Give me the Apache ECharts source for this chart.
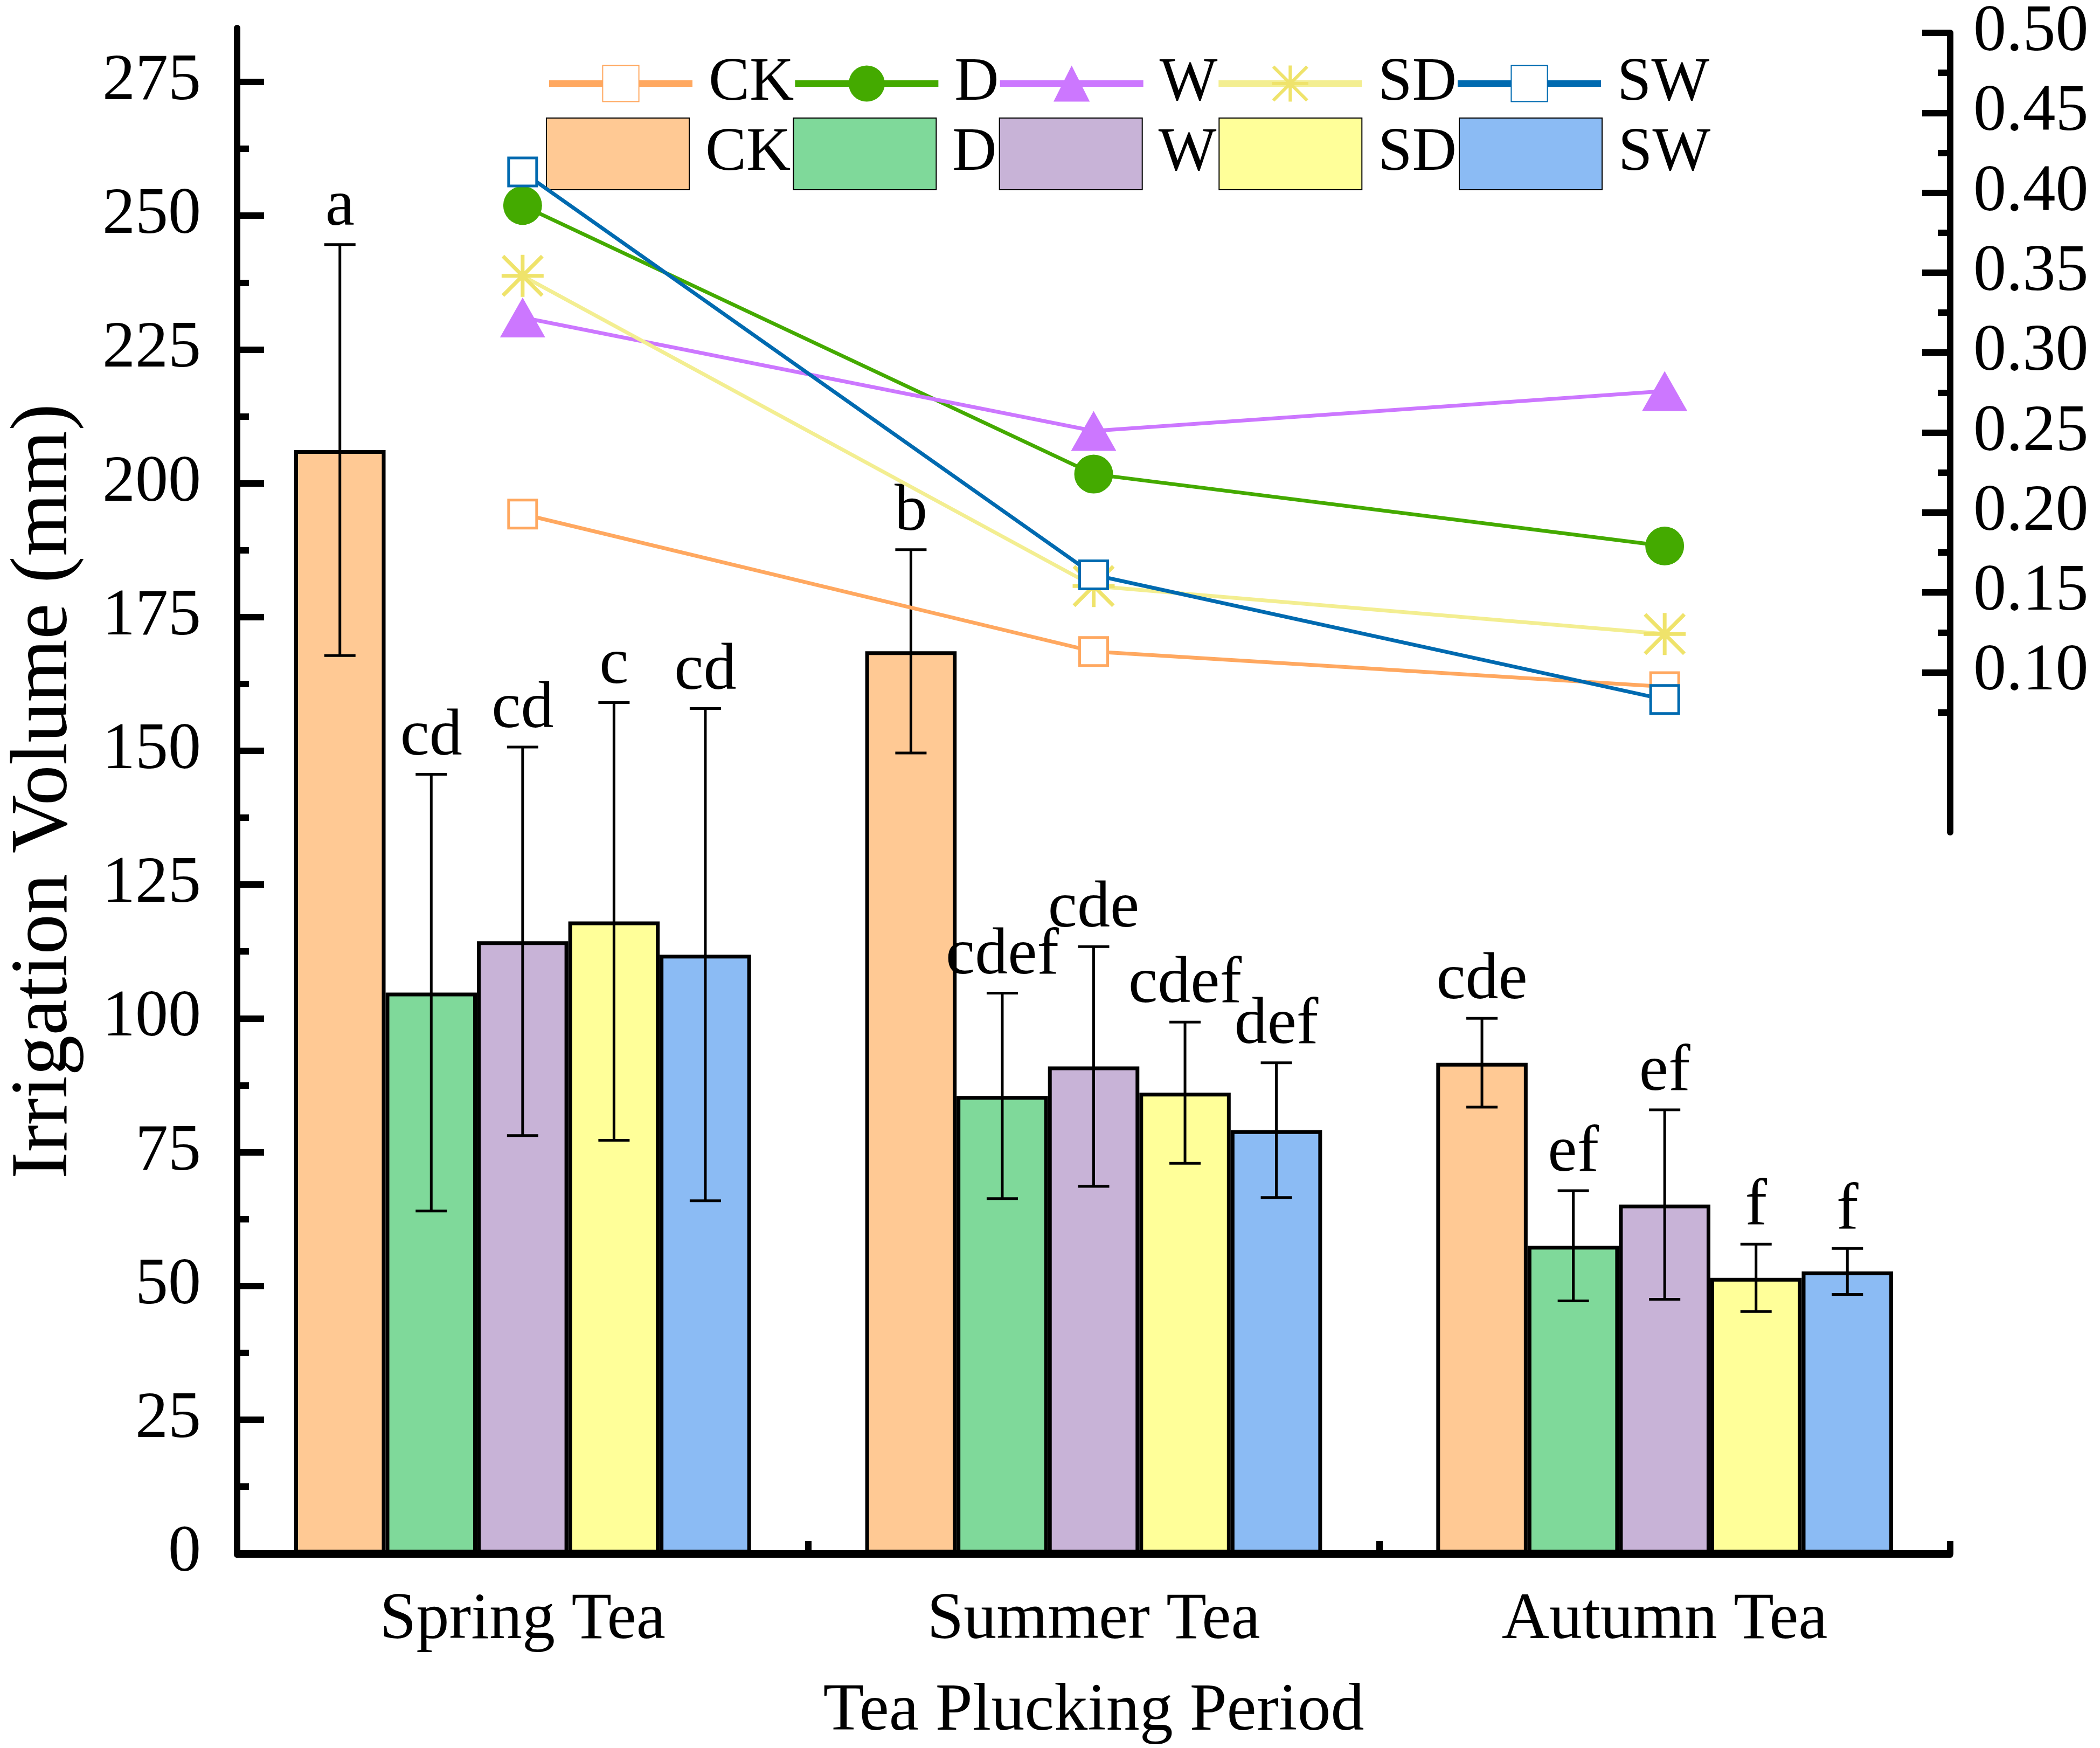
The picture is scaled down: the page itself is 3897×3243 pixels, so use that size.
<!DOCTYPE html>
<html>
<head>
<meta charset="utf-8">
<script src="https://cdn.jsdelivr.net/npm/echarts@6/dist/echarts.min.js"></script>
<style>html,body{margin:0;padding:0;background:#fff}#c{width:3897px;height:3243px}</style>
</head>
<body>
<div id="c"></div>
<script>
// ---------- data ----------
const categories = ['Spring Tea', 'Summer Tea', 'Autumn Tea'];
const treatments = ['CK', 'D', 'W', 'SD', 'SW'];

// bars: irrigation volume (mm), mean and error (half-range)
const barCK = [206.2, 168.6, 91.7];
const barD  = [104.8, 85.5, 57.5];
const barW  = [114.4, 91.0, 65.2];
const barSD = [118.1, 86.1, 51.5];
const barSW = [111.9, 79.1, 52.7];

const errCK = [38.4, 19.0, 8.3];
const errD  = [40.8, 19.2, 10.3];
const errW  = [36.3, 22.4, 17.7];
const errSD = [40.9, 13.2, 6.3];
const errSW = [46.0, 12.6, 4.3];

const letCK = ['a', 'b', 'cde'];
const letD  = ['cd', 'cdef', 'ef'];
const letW  = ['cd', 'cde', 'ef'];
const letSD = ['c', 'cdef', 'f'];
const letSW = ['cd', 'def', 'f'];

// lines: right axis values
const lineCK = [0.199, 0.113, 0.091];
const lineD  = [0.392, 0.224, 0.179];
const lineW  = [0.322, 0.251, 0.276];
const lineSD = [0.348, 0.154, 0.124];
const lineSW = [0.413, 0.161, 0.083];

// right axis tick values
const rightMajor = [0.10, 0.15, 0.20, 0.25, 0.30, 0.35, 0.40, 0.45, 0.50];
const rightMinor = [0.075, 0.125, 0.175, 0.225, 0.275, 0.325, 0.375, 0.425, 0.475];

// ---------- styles ----------
const FONT = 'Liberation Serif';
const barColors  = {CK: '#FFC994', D: '#7FD99A', W: '#C8B3D7', SD: '#FFFF99', SW: '#8BBBF4'};
const lineColors = {CK: '#FFA860', D: '#44AA00', W: '#CC77FF', SD: '#F3EE91', SW: '#006AB0'};
const starPath = 'path://M0 45.5L100 45.5L100 54.5L0 54.5Z M45.5 0L54.5 0L54.5 100L45.5 100Z M0 6.4L6.4 0L100 93.6L93.6 100Z M93.6 0L100 6.4L6.4 100L0 93.6Z';

const barsData = [barCK, barD, barW, barSD, barSW];
const errsData = [errCK, errD, errW, errSD, errSW];
const letsData = [letCK, letD, letW, letSD, letSW];
const linesData = [lineCK, lineD, lineW, lineSD, lineSW];

const L = 440, R = 3897 - 3619, T = 52, B = 3243 - 2884;

const series = [];
treatments.forEach((t, k) => {
  series.push({
    name: t, type: 'bar', xAxisIndex: 0, yAxisIndex: 0,
    barGap: '0%', barCategoryGap: '20%',
    itemStyle: {color: barColors[t], borderColor: '#000', borderWidth: 7},
    data: barsData[k], z: 2
  });
});
treatments.forEach((t, k) => {
  const errs = errsData[k], lets = letsData[k];
  series.push({
    name: 'err' + t, type: 'custom', xAxisIndex: 0, yAxisIndex: 0, z: 3,
    clip: false,
    data: barsData[k].map((v, i) => [i, v]),
    encode: {x: 0, y: 1},
    renderItem: function (params, api) {
      const i = api.value(0), m = api.value(1);
      const e = errs[params.dataIndex];
      const base = api.coord([i, m]);
      const catW = api.size([1, 0])[0];
      const bw = catW * 0.8 / 5;
      const x = base[0] + (k - 2) * bw;
      const yT = api.coord([i, m + e])[1];
      const yB = api.coord([i, m - e])[1];
      const cap = 29;
      const ls = {stroke: '#000', lineWidth: 5};
      return {type: 'group', children: [
        {type: 'line', shape: {x1: x, y1: yT, x2: x, y2: yB}, style: ls},
        {type: 'line', shape: {x1: x - cap, y1: yT, x2: x + cap, y2: yT}, style: ls},
        {type: 'line', shape: {x1: x - cap, y1: yB, x2: x + cap, y2: yB}, style: ls},
        {type: 'text', x: x, y: yT - 8, style: {
          text: lets[params.dataIndex], fill: '#000', fontSize: 122, fontFamily: FONT,
          align: 'center', verticalAlign: 'bottom'}}
      ]};
    }
  });
});
const lineSym = {
  CK: {symbol: 'rect', symbolSize: 52, itemStyle: {color: '#fff', borderColor: lineColors.CK, borderWidth: 5}},
  D:  {symbol: 'circle', symbolSize: 72, itemStyle: {color: lineColors.D}},
  W:  {symbol: 'triangle', symbolSize: [84, 74], itemStyle: {color: lineColors.W}},
  SD: {symbol: starPath, symbolSize: 78, itemStyle: {color: '#EFE36B'}},
  SW: {symbol: 'rect', symbolSize: 52, itemStyle: {color: '#fff', borderColor: lineColors.SW, borderWidth: 5}}
};
treatments.forEach((t, k) => {
  series.push(Object.assign({
    name: t + '-L', type: 'line', xAxisIndex: 2, yAxisIndex: 1, z: 6,
    showAllSymbol: true,
    lineStyle: {color: lineColors[t], width: 7},
    data: linesData[k]
  }, lineSym[t]));
});

const tickLS = {color: '#000', width: 12};
const option = {
  animation: false,
  backgroundColor: '#fff',
  textStyle: {fontFamily: FONT, color: '#000'},
  grid: [
    {left: L, right: R, top: 152, bottom: B},
    {left: L, right: R, top: T, bottom: 3243 - 1544},
    {left: L, right: R, top: T, bottom: B}
  ],
  legend: [
    {
      data: treatments.map(t => t + '-L'),
      formatter: n => n.replace('-L', ''),
      left: 1013, top: 98, padding: 0, itemGap: -4,
      itemWidth: 266, itemHeight: 84,
      lineStyle: {width: 12},
      textStyle: {fontSize: 114, fontFamily: FONT, color: '#000', padding: [0, 0, 0, 25]}
    },
    {
      data: treatments,
      icon: 'rect',
      left: 1013, top: 218, padding: 0, itemGap: 4,
      itemWidth: 265, itemHeight: 133,
      textStyle: {fontSize: 114, fontFamily: FONT, color: '#000', padding: [0, 0, 0, 25]}
    }
  ],
  xAxis: [
    {
      type: 'category', gridIndex: 0, position: 'bottom', data: categories,
      axisLine: {lineStyle: {color: '#000', width: 12}},
      axisTick: {show: true, inside: true, alignWithLabel: true, length: 50, lineStyle: tickLS},
      axisLabel: {fontSize: 122, fontFamily: FONT, color: '#000', margin: 64},
      name: 'Tea Plucking Period', nameLocation: 'middle', nameGap: 232,
      nameTextStyle: {fontSize: 124, fontFamily: FONT, color: '#000'},
      splitLine: {show: false}
    },
    {
      type: 'category', gridIndex: 0, position: 'bottom', data: categories,
      axisLine: {show: false},
      axisTick: {show: true, inside: true, alignWithLabel: false, length: 23, lineStyle: tickLS},
      axisLabel: {show: false}, splitLine: {show: false}
    },
    {
      type: 'category', gridIndex: 1, data: categories, show: false
    },
    {
      type: 'category', gridIndex: 2, position: 'top', data: categories,
      axisLine: {lineStyle: {color: '#000', width: 11}},
      axisTick: {show: false}, axisLabel: {show: false}, splitLine: {show: false}
    }
  ],
  yAxis: [
    {
      type: 'value', gridIndex: 0, position: 'left', min: 0, max: 275, interval: 25,
      axisLine: {show: true, lineStyle: {color: '#000', width: 12}},
      axisTick: {show: true, inside: true, length: 50, lineStyle: tickLS},
      minorTick: {show: true, splitNumber: 2, length: 22, lineStyle: tickLS},
      axisLabel: {fontSize: 122, fontFamily: FONT, color: '#000', margin: 67},
      splitLine: {show: false}
    },
    {
      type: 'value', gridIndex: 1, position: 'right', min: 0, max: 0.5,
      axisLine: {show: true, lineStyle: {color: '#000', width: 12}},
      axisTick: {show: true, inside: true, length: 52, lineStyle: tickLS, customValues: rightMajor},
      axisLabel: {fontSize: 122, fontFamily: FONT, color: '#000', margin: 43,
        customValues: rightMajor, formatter: v => v.toFixed(2)},
      splitLine: {show: false}
    },
    {
      type: 'value', gridIndex: 1, position: 'right', min: 0, max: 0.5,
      axisLine: {show: false},
      axisTick: {show: true, inside: true, length: 23, lineStyle: tickLS, customValues: rightMinor},
      axisLabel: {show: false}, splitLine: {show: false}
    },
    {
      type: 'value', gridIndex: 2, position: 'left', min: 0, max: 1,
      axisLine: {show: true, lineStyle: {color: '#000', width: 12}},
      axisTick: {show: false}, axisLabel: {show: false}, splitLine: {show: false},
      name: 'Irrigation Volume (mm)', nameLocation: 'middle', nameGap: 281, nameRotate: 90,
      nameTextStyle: {fontSize: 150, fontFamily: FONT, color: '#000'}
    }
  ],
  series: series
};
const chart = echarts.init(document.getElementById('c'));
chart.setOption(option);
</script>
</body>
</html>
